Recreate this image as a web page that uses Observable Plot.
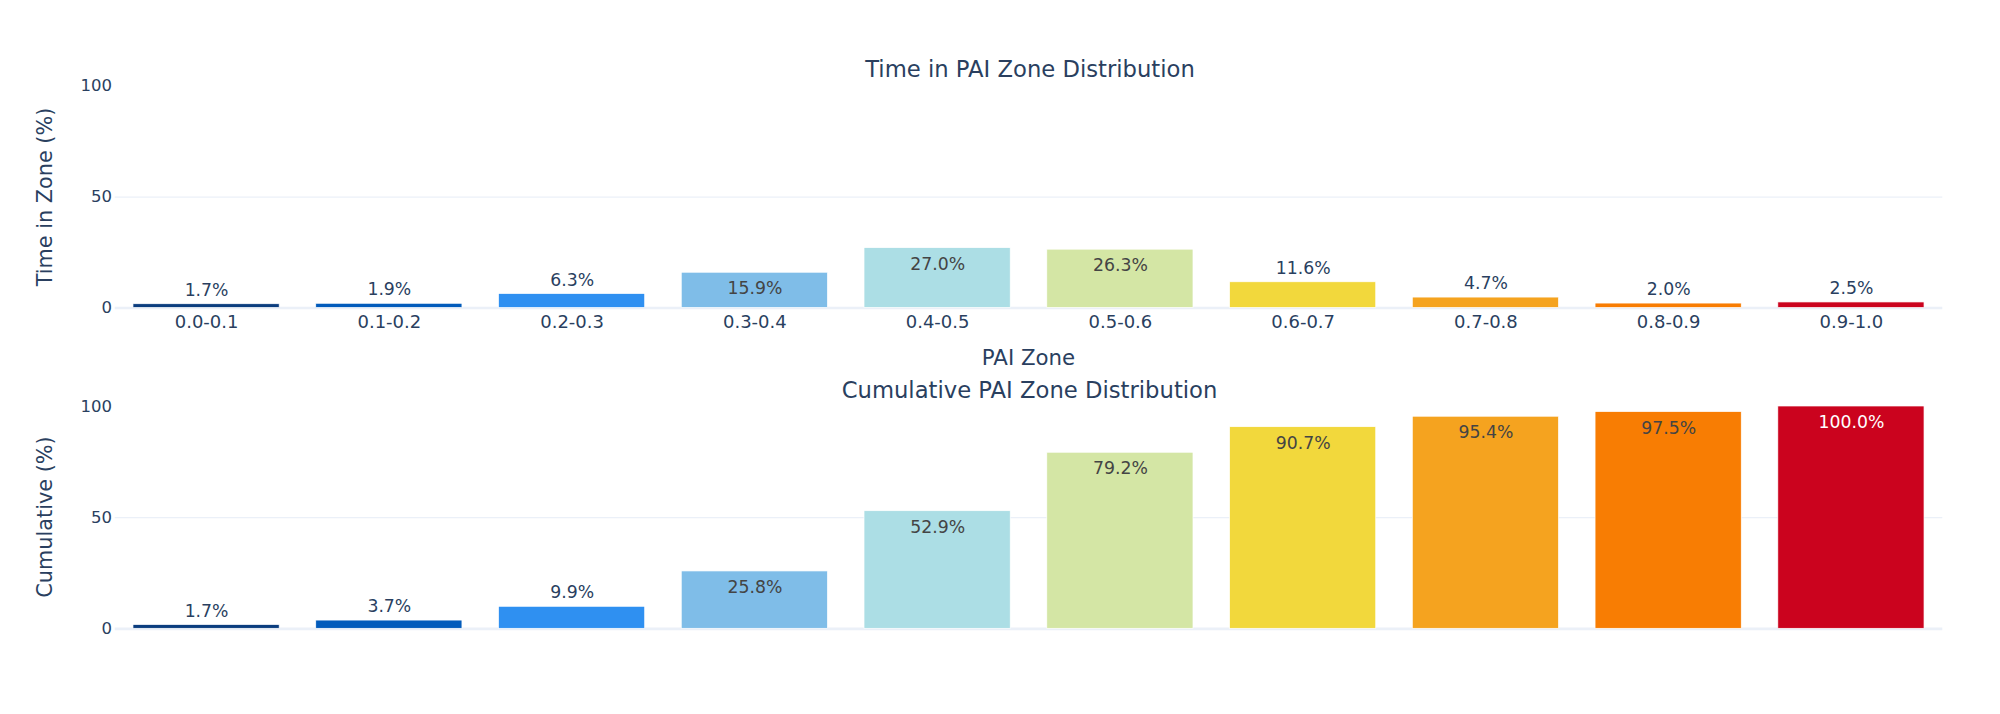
<!DOCTYPE html>
<html>
<head>
<meta charset="utf-8">
<script src="https://cdn.jsdelivr.net/npm/d3@7"></script>
<script src="https://cdn.jsdelivr.net/npm/@observablehq/plot@0.6"></script>
<style>
  html, body { margin: 0; padding: 0; background: #fff; }
  #wrap { position: relative; width: 2000px; height: 714px; overflow: hidden; background: #fff; font-family: "DejaVu Sans", Verdana, sans-serif; color: #2a3f5f; }
  .abs { position: absolute; white-space: nowrap; line-height: 1; }
  .title { font-size: 22.7px; transform: translateX(-50%); }
  .axt { font-size: 21.3px; }
  .ytitle { font-size: 20.8px; transform: translate(-50%, -50%) rotate(-90deg); }
  #p1, #p2 { position: absolute; left: 0; }
</style>
</head>
<body>
<div id="wrap">
  <div id="p1" style="top:0px"></div>
  <div id="p2" style="top:370px"></div>
  <div class="abs title" style="left:1030px; top:58.1px">Time in PAI Zone Distribution</div>
  <div class="abs axt" style="left:1028.5px; top:347px; transform:translateX(-50%)">PAI Zone</div>
  <div class="abs title" style="left:1029.5px; top:379.1px">Cumulative PAI Zone Distribution</div>
  <div class="abs ytitle" style="left:45px; top:196.6px">Time in Zone (%)</div>
  <div class="abs ytitle" style="left:45px; top:517.2px">Cumulative (%)</div>
</div>
<script>
// ---- data ----
const zones = ["0.0-0.1", "0.1-0.2", "0.2-0.3", "0.3-0.4", "0.4-0.5", "0.5-0.6", "0.6-0.7", "0.7-0.8", "0.8-0.9", "0.9-1.0"];
const timeInZone = [1.7, 1.9, 6.3, 15.9, 27.0, 26.3, 11.6, 4.7, 2.0, 2.5];
const cumulative = [1.7, 3.7, 9.9, 25.8, 52.9, 79.2, 90.7, 95.4, 97.5, 100.0];
const zoneColors = ["#0b3d7e", "#025bbb", "#2f90f1", "#7fbde8", "#acdee5", "#d4e6a5", "#f2d83c", "#f5a31f", "#f87d03", "#cb031e"];
const yTicks = [0, 50, 100];

// ---- helpers ----
const INSIDE_MIN = 13; // values below this put their label above the bar
function textColorFor(hex) {
  const c = d3.rgb(hex);
  const b = (c.r * 299 + c.g * 587 + c.b * 114) / 1000;
  return b > 128 ? "#444444" : "#ffffff";
}
function buildRows(values) {
  return zones.map((z, i) => ({
    zone: z,
    value: values[i],
    color: zoneColors[i],
    label: values[i].toFixed(1) + "%",
    inside: values[i] >= INSIDE_MIN,
    txt: values[i] >= INSIDE_MIN ? textColorFor(zoneColors[i]) : "#2a3f5f"
  }));
}

function makeChart(values, opts) {
  const rows = buildRows(values);
  const marks = [
    Plot.ruleY([50], {stroke: "#EBF0F8", strokeWidth: 1.33}),
    Plot.ruleY([0], {stroke: "#EBF0F8", strokeWidth: 2.67}),
    Plot.barY(rows, {x: "zone", y: "value", fill: "color", stroke: "#ffffff", strokeWidth: 0.7}),
    Plot.text(rows.filter(d => !d.inside), {x: "zone", y: "value", text: "label", fill: "txt", fontSize: 17.3, lineAnchor: "bottom", dy: -8.5}),
    Plot.text(rows.filter(d => d.inside), {x: "zone", y: "value", text: "label", fill: "txt", fontSize: 17.3, lineAnchor: "bottom", dy: 21.5}),
    Plot.axisY({ticks: yTicks, tickSize: 0, tickPadding: 3.2, label: null, fontSize: 16.5})
  ];
  if (opts.xAxis) {
    marks.push(Plot.axisX({tickSize: 0, tickPadding: 7, label: null, fontSize: 18}));
  }
  return Plot.plot({
    width: 2000,
    height: opts.height,
    marginLeft: 114.7,
    marginRight: 57.7,
    marginTop: opts.marginTop,
    marginBottom: opts.marginBottom,
    style: {fontFamily: "DejaVu Sans, Verdana, sans-serif", fontSize: "16px", color: "#2a3f5f", background: "transparent", overflow: "visible"},
    x: {type: "band", domain: zones, paddingInner: 0.2, paddingOuter: 0.1, round: false, axis: opts.xAxis ? undefined : null, label: null},
    y: {domain: [0, 100], label: null},
    color: {type: "identity"},
    marks
  });
}

document.getElementById("p1").appendChild(makeChart(timeInZone, {height: 370, marginTop: 85.7, marginBottom: 62.5, xAxis: true}));
document.getElementById("p2").appendChild(makeChart(cumulative, {height: 344, marginTop: 36, marginBottom: 85.7, xAxis: false}));
</script>
</body>
</html>
